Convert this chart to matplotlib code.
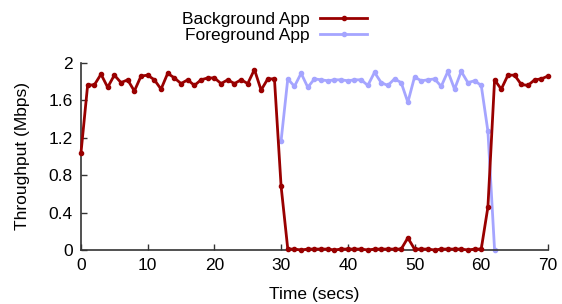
import numpy as np
import matplotlib.pyplot as plt

plt.rcParams['font.family'] = ['Liberation Sans', 'DejaVu Sans']

# Figure formatting
font_size = 12.5
bg_color = '#990000'
fg_color = '#a5a5ff'

# Data: one sample per second
background_time = np.arange(0, 71)
background_throughput = [
    1.04, 1.765, 1.765, 1.88, 1.74, 1.87, 1.79, 1.82, 1.70, 1.86,
    1.87, 1.82, 1.72, 1.89, 1.84, 1.78, 1.82, 1.76, 1.82, 1.84,
    1.84, 1.78, 1.82, 1.78, 1.82, 1.78, 1.93, 1.71, 1.83, 1.83,
    0.68, 0.01, 0.01, 0.0, 0.01, 0.01, 0.01, 0.01, 0.0, 0.01,
    0.01, 0.01, 0.01, 0.0, 0.01, 0.01, 0.01, 0.01, 0.01, 0.13,
    0.01, 0.01, 0.01, 0.0, 0.01, 0.01, 0.01, 0.01, 0.0, 0.01,
    0.01, 0.46, 1.82, 1.72, 1.87, 1.87, 1.77, 1.76, 1.82, 1.83,
    1.86,
]

foreground_time = np.arange(30, 63)
foreground_throughput = [
    1.17, 1.83, 1.75, 1.89, 1.74, 1.83, 1.82, 1.81, 1.82, 1.82,
    1.81, 1.82, 1.82, 1.76, 1.90, 1.79, 1.76, 1.83, 1.79, 1.58,
    1.85, 1.81, 1.82, 1.83, 1.75, 1.91, 1.72, 1.91, 1.79, 1.81,
    1.76, 1.27, 0.0,
]

x_ticks = [0, 10, 20, 30, 40, 50, 60, 70]
y_ticks = [0, 0.4, 0.8, 1.2, 1.6, 2]
y_tick_labels = ['0', '0.4', '0.8', '1.2', '1.6', '2']

# Set up plot
fig = plt.figure(figsize=(5.62, 3.04), dpi=100)
ax = fig.add_axes([0.1441, 0.1776, 0.8309, 0.6152])

ax.plot(background_time, background_throughput, color=bg_color, lw=2,
        marker='o', markersize=3.0, label='Background App', clip_on=False, zorder=3)
ax.plot(foreground_time, foreground_throughput, color=fg_color, lw=2,
        marker='o', markersize=3.0, label='Foreground App', clip_on=False, zorder=2)

ax.set_xlim(0, 70)
ax.set_ylim(0, 2)
ax.set_xticks(x_ticks)
ax.set_yticks(y_ticks)
ax.set_yticklabels(y_tick_labels)

# gnuplot style: only left/bottom border, inward ticks
for side in ['top', 'right']:
    ax.spines[side].set_visible(False)
for side in ['left', 'bottom']:
    ax.spines[side].set_color('#333333')
    ax.spines[side].set_linewidth(1.2)
ax.tick_params(direction='in', length=4, width=1, color='#333333',
               labelsize=font_size, pad=6)

ax.set_xlabel('Time (secs)', size=font_size, labelpad=10)
ax.set_ylabel('Throughput (Mbps)', size=font_size, labelpad=13)

# Legend above the axes, text to the left of the sample line
fig.legend(loc='upper center', bbox_to_anchor=(0.489, 1.008), frameon=False,
           markerfirst=False, fontsize=font_size, handlelength=2.7,
           handletextpad=0.6, labelspacing=0.05, borderpad=0.3, numpoints=1)

fig.savefig('out.png', dpi=100)
